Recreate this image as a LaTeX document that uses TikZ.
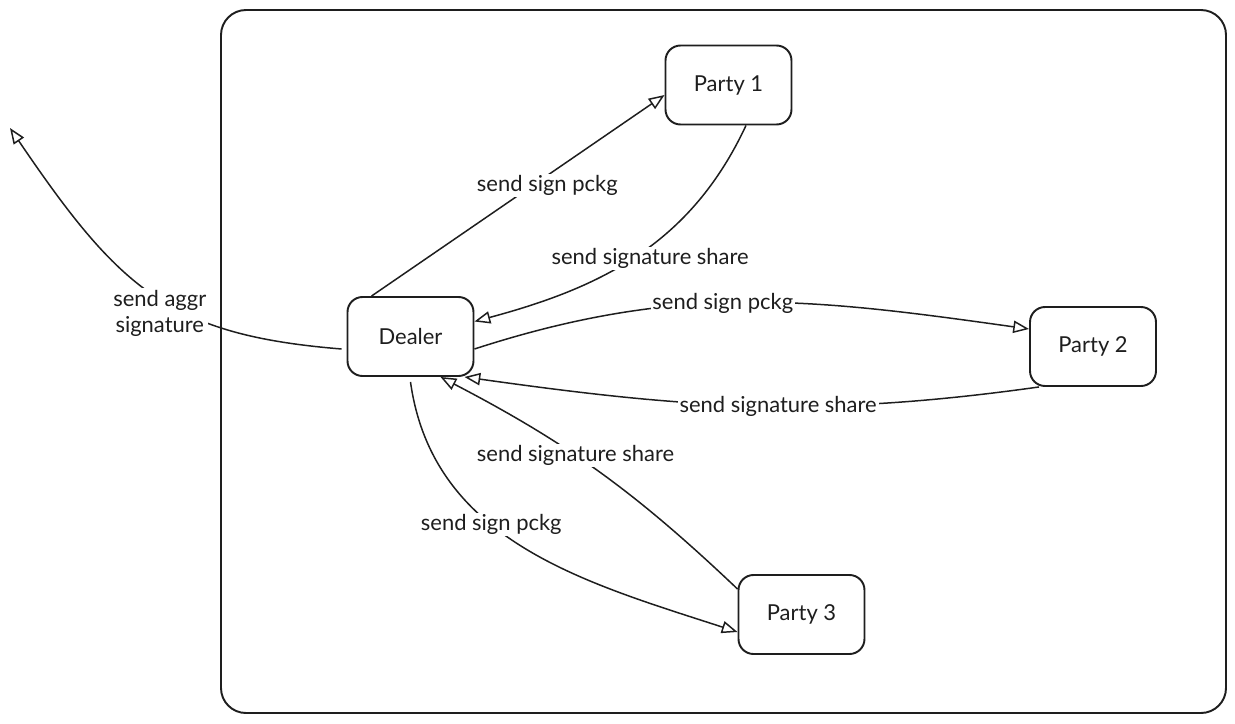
\documentclass[tikz,border=0pt]{standalone}
\usepackage{fontspec}
\setmainfont{Lato}
\usetikzlibrary{arrows.meta}
\definecolor{ink}{HTML}{1E1E1E}

\begin{document}
\begin{tikzpicture}[x=0.02cm,y=-0.02cm,
    party/.style={draw=ink, text=ink, line width=1.1pt, rounded corners=0.3cm,
        minimum width=2.52cm, minimum height=1.58cm, font=\fontsize{12.5}{15}\selectfont},
    msg/.style={draw=ink, line width=0.85pt, -{Triangle[open,length=9pt,width=7pt]}},
    lbl/.style={fill=white, text=ink, inner sep=1pt, font=\fontsize{12.5}{15}\selectfont}]
    \useasboundingbox (0,0) rectangle (1235,724);

    % Outer frame
    \draw[ink, line width=1.1pt, rounded corners=0.5cm] (221,10) rectangle (1226,713);

    % Parties
    \node[party] (dealer) at (410.5,336.5) {Dealer};
    \node[party] (party1) at (728.5,85) {Party 1};
    \node[party] (party2) at (1093,346.5) {Party 2};
    \node[party] (party3) at (801.5,614.5) {Party 3};

    % Dealer and Party 1
    \draw[msg] ([xshift=0.5cm]dealer.north west) -- ([yshift=-0.2cm]party1.west)
        node[lbl, pos=0.6, yshift=-0.2cm] {send sign pckg};
    \draw[msg] ([xshift=0.35cm]party1.south) to[out=-115,in=15]
        node[lbl, pos=0.45, yshift=-0.25cm] {send signature share} ([yshift=0.3cm]dealer.east);

    % Dealer and Party 2
    \draw[msg] ([yshift=-0.25cm]dealer.east) to[out=18,in=172]
        node[lbl, pos=0.45] {send sign pckg} ([yshift=0.35cm]party2.west);
    \draw[msg] ([xshift=0.2cm]party2.south west) to[out=188,in=-8]
        node[lbl, pos=0.45] {send signature share} ([xshift=-0.2cm]dealer.south east);

    % Dealer and Party 3
    \draw[msg] ([yshift=-0.3cm]party3.north west) to[bend right=8]
        node[lbl, pos=0.58] {send signature share} ([xshift=0.6cm]dealer.south);
    \draw[msg] ([yshift=-0.1cm]dealer.south) to[out=-82,in=162]
        node[lbl, pos=0.4] {send sign pckg} ([yshift=-0.35cm]party3.west);

    % Aggregated signature leaves the group
    \coordinate (aggrend) at (10,128);
    \draw[msg] ([yshift=-0.25cm,xshift=-0.1cm]dealer.west) .. controls (170,335) and (120,290) ..
        node[lbl, pos=0.45, align=center, xshift=-0.15cm, yshift=-0.2cm] {send aggr\\signature} (aggrend);
\end{tikzpicture}
\end{document}
